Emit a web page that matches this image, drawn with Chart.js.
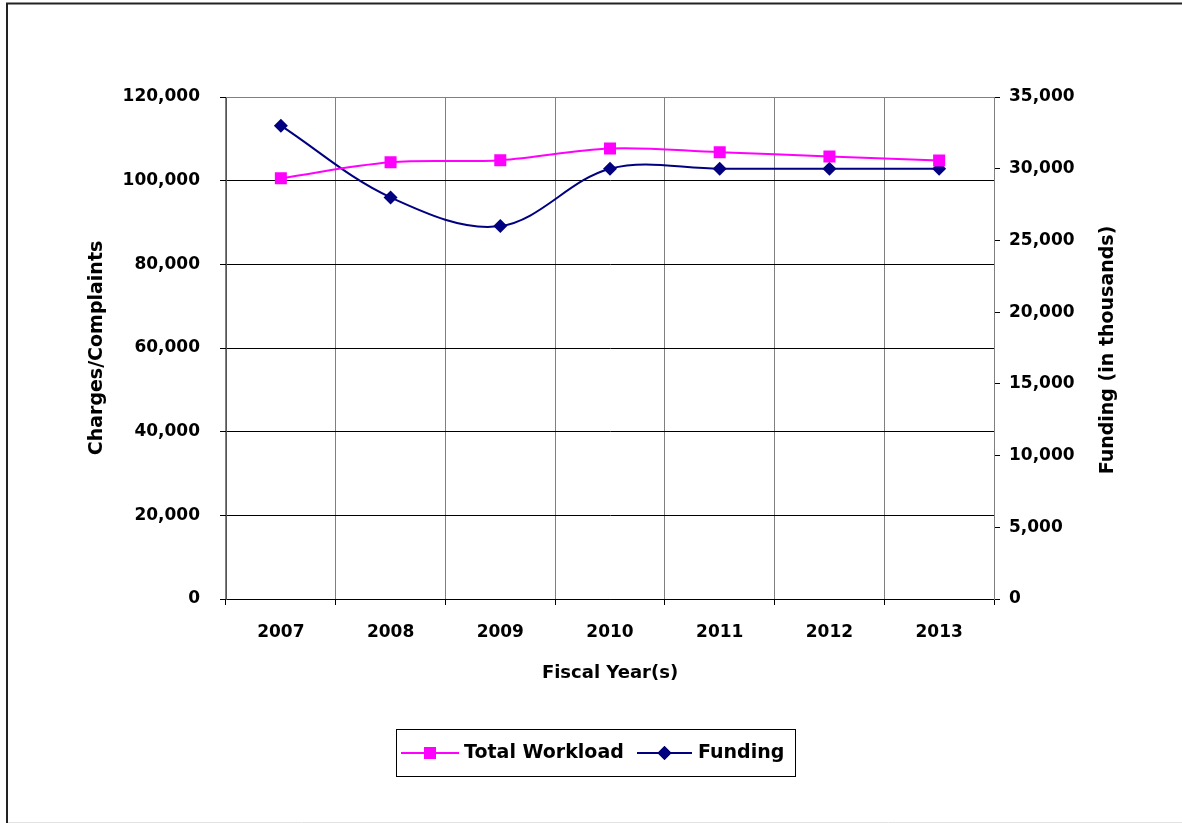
<!DOCTYPE html>
<html>
<head>
<meta charset="utf-8">
<title>Workload and Funding</title>
<script src="https://cdn.jsdelivr.net/npm/chart.js@4.4.1/dist/chart.umd.min.js"></script>
<style>
    html, body { margin: 0; padding: 0; background: #fff; overflow: hidden; }
    #chart { display: block; }
</style>
</head>
<body>
<canvas id="chart" width="1182" height="823"></canvas>
<script>
// values
const fiscalYears = ['2007', '2008', '2009', '2010', '2011', '2012', '2013'];
const totalWorkload = [100600, 104400, 104900, 107700, 106800, 105800, 104800];
const funding = [33000, 28000, 26000, 30000, 30000, 30000, 30000];
const leftTicks = [0, 20000, 40000, 60000, 80000, 100000, 120000];
const rightTicks = [0, 5000, 10000, 15000, 20000, 25000, 30000, 35000];

const FONT = 'DejaVu Sans';

document.addEventListener('DOMContentLoaded', function() {
    Chart.defaults.font.family = FONT;
    Chart.defaults.font.weight = 'bold';
    Chart.defaults.color = '#000';

    function fmt(v) {
        return Number(v).toLocaleString('en-US');
    }

    // frame, plot top border, right axis title and boxed legend
    const extras = {
        id: 'extras',
        beforeDraw(chart) {
            const ctx = chart.ctx;
            ctx.save();
            ctx.fillStyle = '#fff';
            ctx.fillRect(0, 0, chart.width, chart.height);
            ctx.strokeStyle = '#222';
            ctx.lineWidth = 2;
            ctx.beginPath();
            ctx.moveTo(7, 823);
            ctx.lineTo(7, 3.5);
            ctx.lineTo(chart.width, 3.5);
            ctx.stroke();
            ctx.strokeStyle = '#e2e2e2';
            ctx.lineWidth = 1;
            ctx.beginPath();
            ctx.moveTo(8, 822.5);
            ctx.lineTo(chart.width, 822.5);
            ctx.stroke();
            ctx.restore();
        },
        afterDraw(chart) {
            const ctx = chart.ctx;
            const area = chart.chartArea;
            ctx.save();

            // top border of plot area
            ctx.strokeStyle = '#808080';
            ctx.lineWidth = 1;
            ctx.beginPath();
            ctx.moveTo(area.left, Math.round(area.top) + 0.5);
            ctx.lineTo(area.right, Math.round(area.top) + 0.5);
            ctx.stroke();

            // right axis title, reading upwards
            ctx.font = 'bold 19px ' + FONT;
            ctx.fillStyle = '#000';
            ctx.textAlign = 'center';
            ctx.textBaseline = 'middle';
            ctx.translate(1108, 350);
            ctx.rotate(-Math.PI / 2);
            ctx.fillText('Funding (in thousands)', 0, 0);
            ctx.setTransform(1, 0, 0, 1, 0, 0);

            // legend box
            ctx.strokeStyle = '#000';
            ctx.strokeRect(396.5, 729.5, 399, 47);
            const items = [
                { ds: chart.data.datasets[0], x0: 401, x1: 459, tx: 464 },
                { ds: chart.data.datasets[1], x0: 637, x1: 692, tx: 698 }
            ];
            const ly = 753;
            items.forEach(it => {
                ctx.strokeStyle = it.ds.borderColor;
                ctx.lineWidth = 2;
                ctx.beginPath();
                ctx.moveTo(it.x0, ly);
                ctx.lineTo(it.x1, ly);
                ctx.stroke();
                Chart.helpers.drawPoint(ctx, {
                    pointStyle: it.ds.pointStyle,
                    radius: it.ds.pointRadius,
                    borderWidth: 0
                }, (it.x0 + it.x1) / 2, ly);
                ctx.fillStyle = it.ds.pointBackgroundColor;
                ctx.fill();
                ctx.fillStyle = '#000';
                ctx.font = 'bold 19px ' + FONT;
                ctx.textAlign = 'left';
                ctx.textBaseline = 'middle';
                ctx.fillText(it.ds.label, it.tx, ly);
            });
            ctx.restore();
        }
    };

    const ctx = document.getElementById('chart').getContext('2d');
    new Chart(ctx, {
        type: 'line',
        data: {
            labels: fiscalYears,
            datasets: [{
                label: 'Total Workload',
                data: totalWorkload,
                yAxisID: 'y',
                borderColor: '#ff00ff',
                backgroundColor: '#ff00ff',
                pointBackgroundColor: '#ff00ff',
                pointBorderWidth: 0,
                pointStyle: 'rect',
                pointRadius: 8.5,
                borderWidth: 2,
                tension: 0.35,
                fill: false
            }, {
                label: 'Funding',
                data: funding,
                yAxisID: 'y1',
                borderColor: '#000080',
                backgroundColor: '#000080',
                pointBackgroundColor: '#000080',
                pointBorderWidth: 0,
                pointStyle: 'rectRot',
                pointRadius: 7,
                borderWidth: 2,
                tension: 0.35,
                fill: false
            }]
        },
        options: {
            responsive: false,
            animation: false,
            layout: { padding: { top: 97, left: 0, right: 0, bottom: 0 } },
            plugins: {
                legend: { display: false },
                tooltip: { enabled: false }
            },
            scales: {
                x: {
                    offset: true,
                    grid: {
                        offset: true,
                        color: '#808080',
                        tickColor: '#000',
                        tickLength: 6
                    },
                    border: { color: '#000' },
                    ticks: { padding: 17, font: { size: 17, weight: 'bold' } },
                    title: {
                        display: true,
                        text: 'Fiscal Year(s)',
                        font: { size: 18, weight: 'bold' },
                        padding: { top: 0, bottom: 139 }
                    },
                    afterFit: function(scale) { scale.height = 224; }
                },
                y: {
                    position: 'left',
                    min: 0,
                    max: 120000,
                    afterBuildTicks: function(scale) {
                        scale.ticks = leftTicks.map(v => ({ value: v }));
                    },
                    grid: {
                        color: function(c) { return c.tick && c.tick.value === 120000 ? '#808080' : '#000'; },
                        tickColor: '#000',
                        tickLength: 6
                    },
                    border: { color: '#555' },
                    ticks: {
                        padding: 20,
                        font: { size: 17, weight: 'bold' },
                        callback: fmt
                    },
                    title: {
                        display: true,
                        text: 'Charges/Complaints',
                        font: { size: 19, weight: 'bold' },
                        padding: { top: 86, bottom: 0 }
                    },
                    afterFit: function(scale) { scale.width = 226; }
                },
                y1: {
                    position: 'right',
                    min: 0,
                    max: 35000,
                    afterBuildTicks: function(scale) {
                        scale.ticks = rightTicks.map(v => ({ value: v }));
                    },
                    grid: {
                        drawOnChartArea: false,
                        tickColor: '#000',
                        tickLength: 6
                    },
                    border: { color: '#808080' },
                    ticks: {
                        padding: 9,
                        font: { size: 17, weight: 'bold' },
                        callback: fmt
                    },
                    afterFit: function(scale) { scale.width = 188; }
                }
            }
        },
        plugins: [extras]
    });
});
</script>
</body>
</html>
